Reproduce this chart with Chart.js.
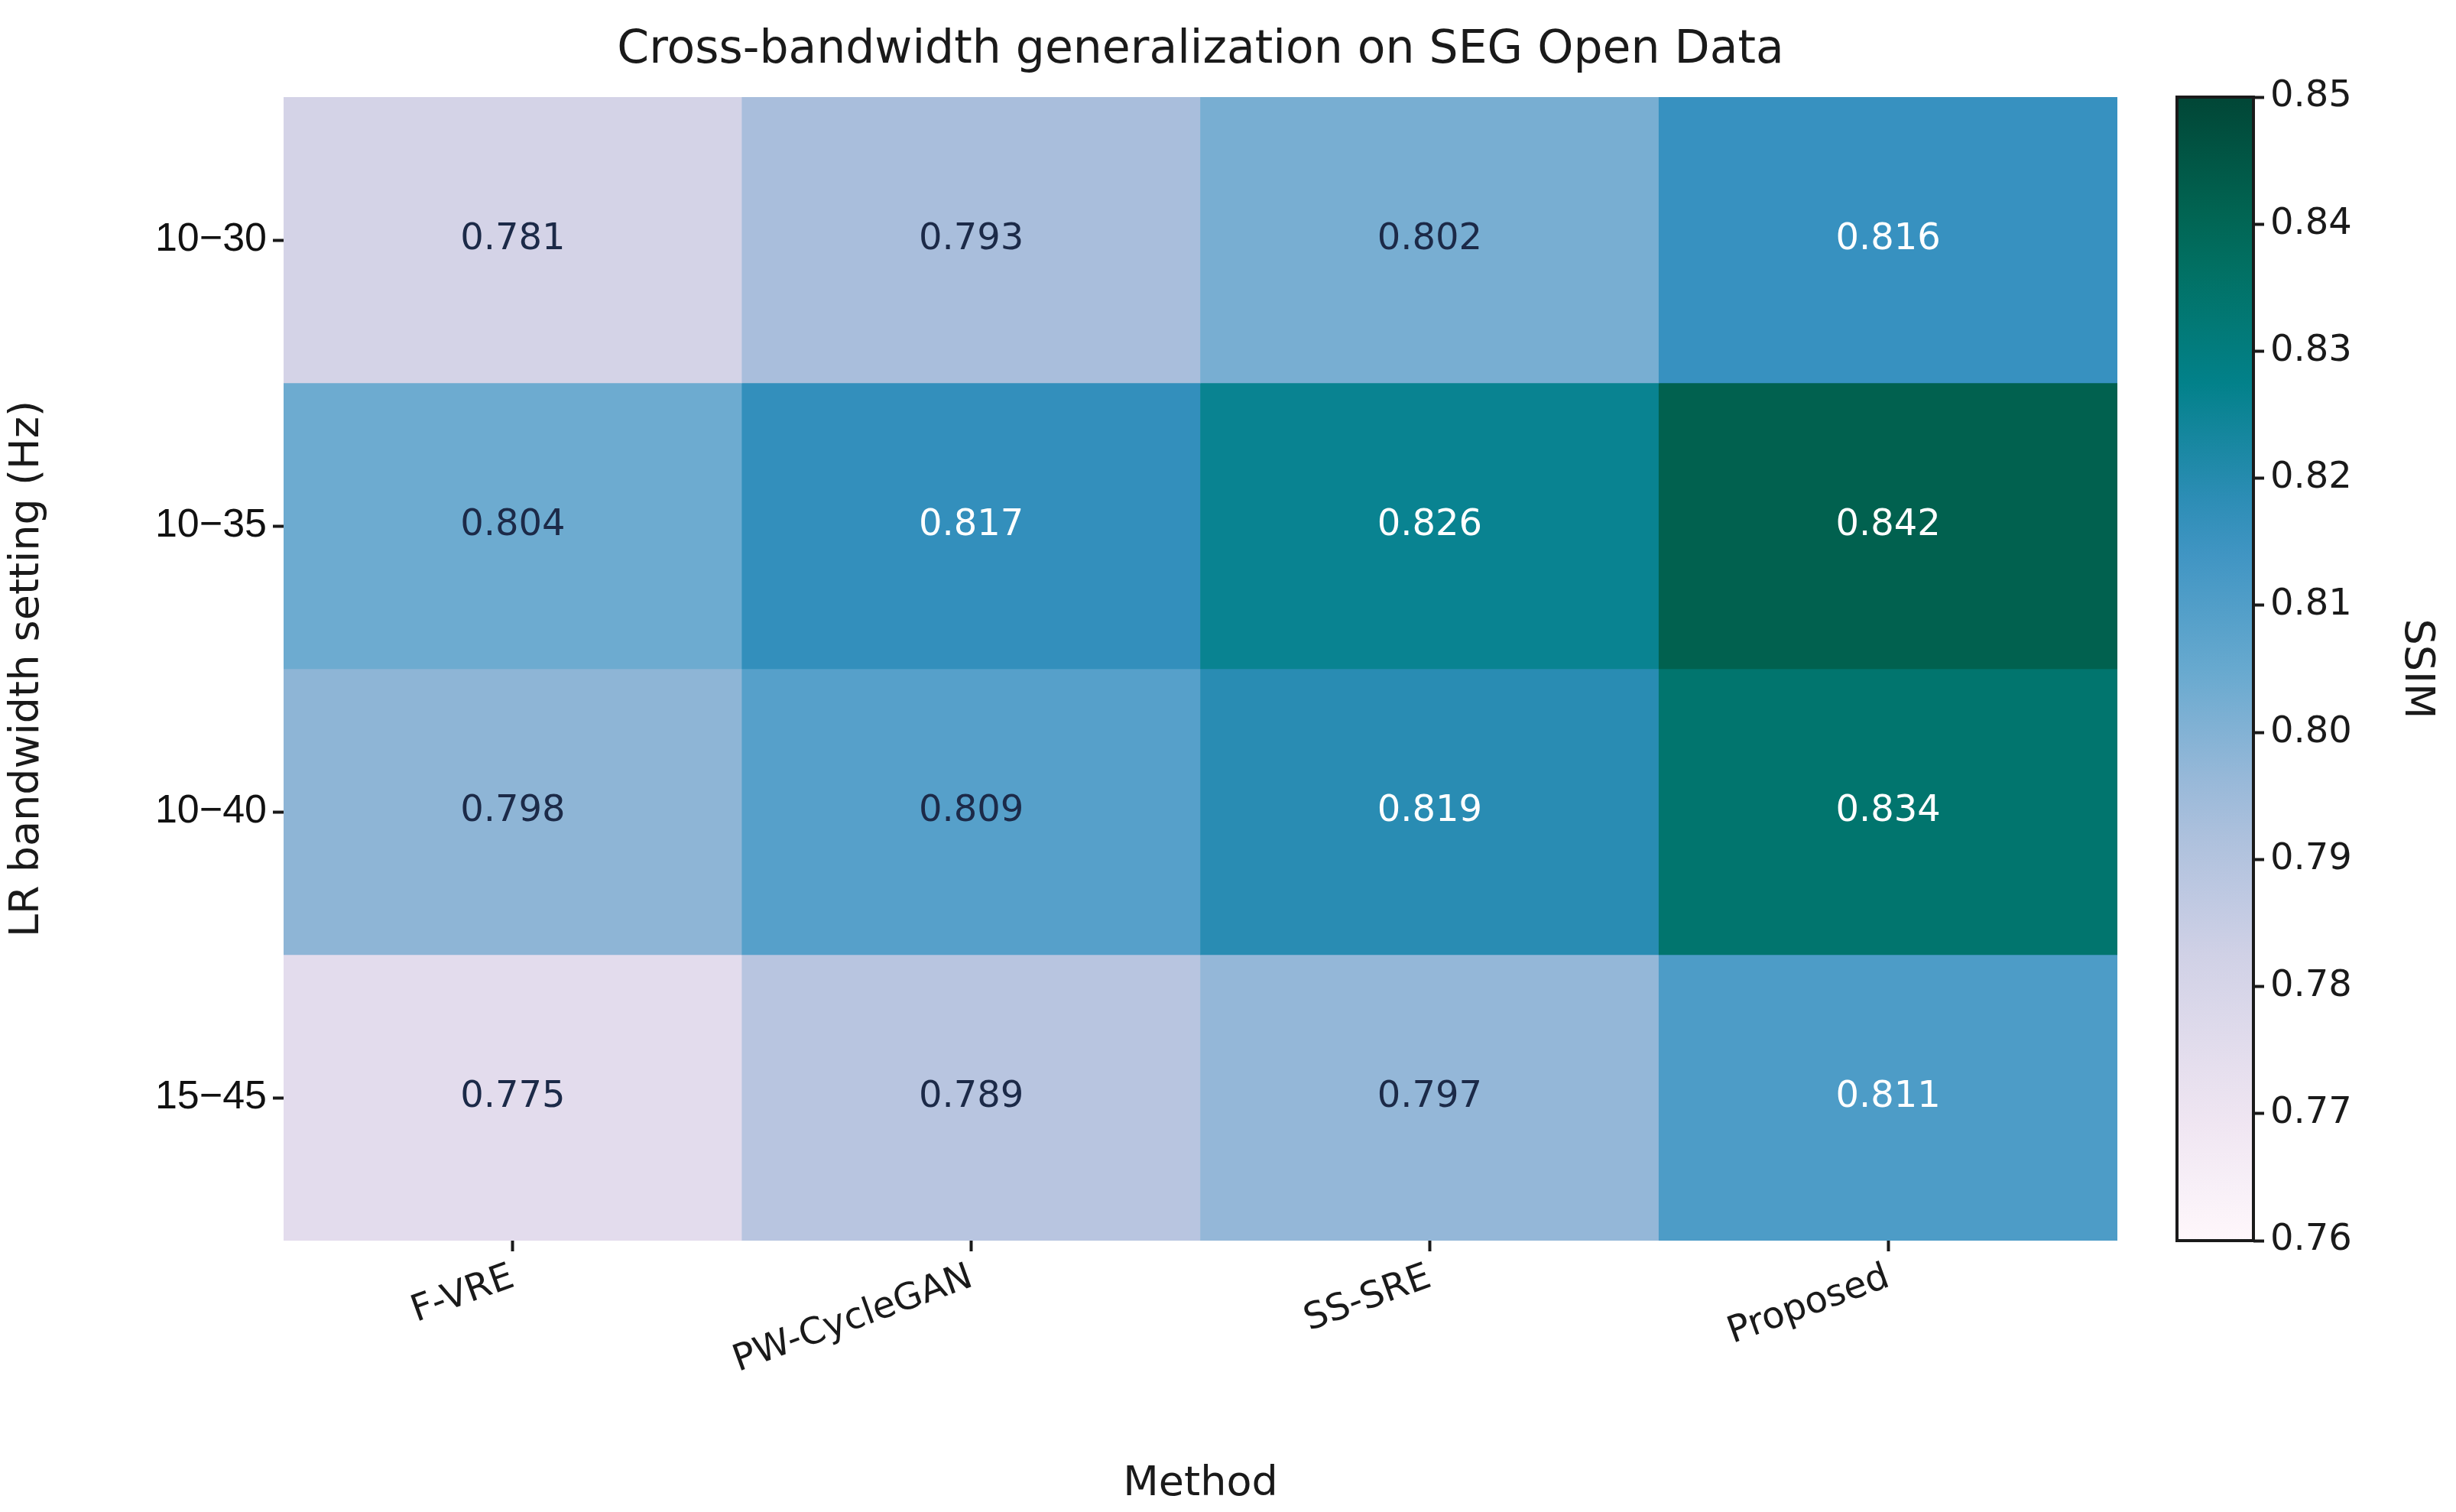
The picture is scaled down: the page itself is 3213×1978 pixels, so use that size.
<!DOCTYPE html>
<html><head><meta charset="utf-8">
<script src="https://cdn.jsdelivr.net/npm/chart.js@4.4.1/dist/chart.umd.min.js"></script>
<style>
body{margin:0;background:#fff;}
canvas{position:absolute;top:0;}
</style></head>
<body>
<canvas id="heat" width="2800" height="1978" style="left:0;width:2800px;height:1978px"></canvas>
<canvas id="cbar" width="413" height="1978" style="left:2800px;width:413px;height:1978px"></canvas>
<script>
const methods = ['F-VRE', 'PW-CycleGAN', 'SS-SRE', 'Proposed'];
const settings = ['10\u221230', '10\u221235', '10\u221240', '15\u221245'];
const ssim_1030 = [0.781, 0.793, 0.802, 0.816];
const ssim_1035 = [0.804, 0.817, 0.826, 0.842];
const ssim_1040 = [0.798, 0.809, 0.819, 0.834];
const ssim_1545 = [0.775, 0.789, 0.797, 0.811];
const rows = [ssim_1030, ssim_1035, ssim_1040, ssim_1545];
const vmin = 0.76, vmax = 0.85;
const cbarTicks = [0.76,0.77,0.78,0.79,0.80,0.81,0.82,0.83,0.84,0.85];

// PuBuGn
const stops = ['#fff7fb','#ece2f0','#d0d1e6','#a6bddb','#67a9cf','#3690c0','#02818a','#016c59','#014636'];
function hex(h){return [1,3,5].map(i=>parseInt(h.substr(i,2),16));}
function cmap(t){
  t = Math.max(0, Math.min(1, t));
  let p = t*(stops.length-1), i = Math.min(Math.floor(p), stops.length-2), f = p-i;
  let a = hex(stops[i]), b = hex(stops[i+1]);
  let c = a.map((v,k)=>Math.round(v+(b[k]-v)*f));
  return c;
}
function col(v){const c=cmap((v-vmin)/(vmax-vmin));return 'rgb('+c.join(',')+')';}
function lum(v){const c=cmap((v-vmin)/(vmax-vmin));return 0.299*c[0]+0.587*c[1]+0.114*c[2];}

const font = 'DejaVu Sans';
Chart.defaults.font.family = font;
Chart.defaults.color = '#1a1a1a';

const datasets = rows.map((vals, r) => ({
  label: settings[r],
  data: vals.map(() => [r-0.5, r+0.5]),
  backgroundColor: vals.map(col),
  borderWidth: 0,
  barPercentage: 1, categoryPercentage: 1, grouped: false
}));

const cellText = {
  id: 'cellText',
  afterDatasetsDraw(chart){
    const ctx = chart.ctx;
    ctx.save();
    ctx.font = '48px ' + font;
    ctx.textAlign = 'center'; ctx.textBaseline = 'middle';
    rows.forEach((vals, r) => {
      chart.getDatasetMeta(r).data.forEach((el, i) => {
        const v = vals[i];
        ctx.fillStyle = lum(v) < 140 ? '#ffffff' : '#1c2a48';
        const y = chart.scales.y.getPixelForValue(r);
        ctx.fillText(v.toFixed(3), el.x, y);
      });
    });
    ctx.restore();
  }
};

new Chart(document.getElementById('heat'), {
  type: 'bar',
  data: { labels: methods, datasets },
  plugins: [cellText],
  options: {
    responsive: false, animation: false, devicePixelRatio: 1,
    layout: { padding: { left: 0, right: 30, top: 0, bottom: 0 } },
    plugins: {
      legend: { display: false }, tooltip: { enabled: false },
      title: { display: true, text: 'Cross-bandwidth generalization on SEG Open Data',
        fullSize: false, font: { size: 60, weight: 'normal' }, color: '#1a1a1a',
        padding: { top: 30, bottom: 25 } }
    },
    scales: {
      x: {
        offset: true,
        grid: { offset: false, drawOnChartArea: false, tickLength: 14, tickWidth: 4, tickColor: '#1a1a1a' },
        border: { display: false },
        ticks: { font: { size: 48 }, minRotation: 20, maxRotation: 20, padding: 6, color: '#1a1a1a' },
        title: { display: true, text: 'Method', font: { size: 54 }, padding: { top: 20 } },
        afterFit: s => { s.height = 355; }
      },
      y: {
        min: -0.5, max: 3.5, reverse: true,
        afterBuildTicks: s => { s.ticks = [0,1,2,3].map(v => ({ value: v })); },
        grid: { drawOnChartArea: false, tickLength: 14, tickWidth: 4, tickColor: '#1a1a1a' },
        border: { display: false },
        ticks: { font: { size: 52, family: 'Liberation Sans' }, color: '#111', padding: 8,
          callback: v => settings[v] },
        title: { display: true, text: 'LR bandwidth setting (Hz)', font: { size: 54 }, padding: { bottom: 10 } },
        afterFit: s => { s.width = 371; }
      }
    }
  }
});

const cbarBorder = {
  id: 'cbarBorder',
  afterDraw(chart){
    const a = chart.chartArea, ctx = chart.ctx;
    ctx.save(); ctx.strokeStyle = '#1a1a1a'; ctx.lineWidth = 4;
    ctx.strokeRect(a.left, a.top, a.right-a.left, a.bottom-a.top);
    ctx.restore();
  }
};

new Chart(document.getElementById('cbar'), {
  type: 'bar',
  data: { labels: ['SSIM'], datasets: [{
    data: [[vmin, vmax]], borderWidth: 0, barPercentage: 1, categoryPercentage: 1,
    backgroundColor: ctx => {
      const a = ctx.chart.chartArea;
      if (!a) return '#fff';
      const g = ctx.chart.ctx.createLinearGradient(0, a.bottom, 0, a.top);
      for (let k = 0; k <= 20; k++) g.addColorStop(k/20, 'rgb(' + cmap(k/20).join(',') + ')');
      return g;
    }
  }]},
  plugins: [cbarBorder],
  options: {
    responsive: false, animation: false, devicePixelRatio: 1,
    layout: { padding: { left: 48, top: 127, right: 10, bottom: 0 } },
    plugins: { legend: { display: false }, tooltip: { enabled: false } },
    scales: {
      x: { display: false, afterFit: s => { s.height = 355; } },
      y: {
        position: 'right', min: vmin, max: vmax,
        afterBuildTicks: s => { s.ticks = cbarTicks.map(v => ({ value: v })); },
        grid: { drawOnChartArea: false, tickLength: 14, tickWidth: 4, tickColor: '#1a1a1a' },
        border: { display: false },
        ticks: { font: { size: 48 }, padding: 8, color: '#1a1a1a', callback: v => v.toFixed(2) },
        title: { display: true, text: 'SSIM', font: { size: 54 }, padding: { top: 10 } },
        afterFit: s => { s.width = 255; }
      }
    }
  }
});
</script>
</body></html>
